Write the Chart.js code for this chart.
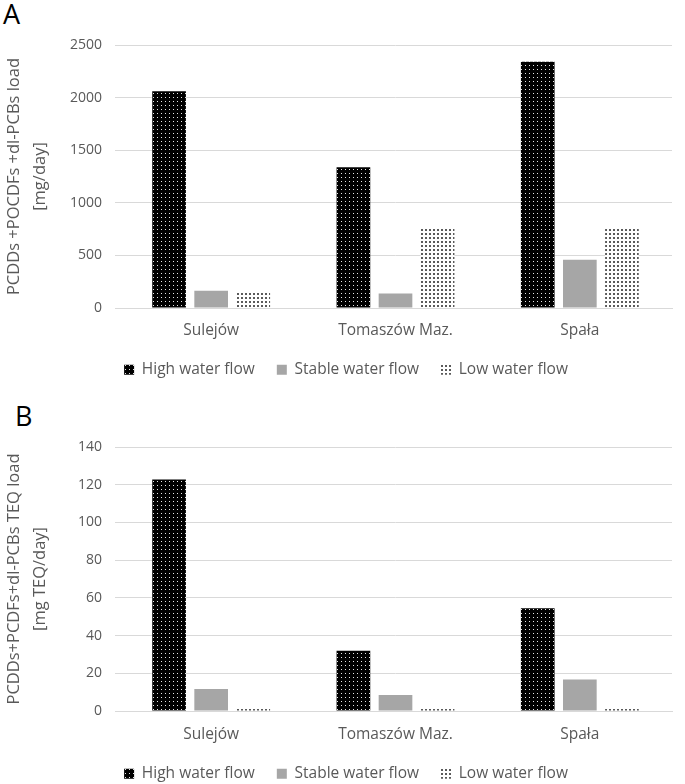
<!DOCTYPE html>
<html>
<head>
<meta charset="utf-8">
<script src="https://cdn.jsdelivr.net/npm/chart.js@4.4.1/dist/chart.umd.min.js"></script>
<style>
  html, body { margin: 0; padding: 0; background: #fff; overflow: hidden; }
  body { width: 685px; height: 784px; position: relative; }
  .box { position: absolute; left: 0; width: 685px; }
  .panel { position: absolute; font-family: "Open Sans", sans-serif; font-size: 27px; color: #000; }
</style>
</head>
<body>
<div class="panel" style="left:3px; top:-5px;">A</div>
<div class="panel" style="left:15px; top:397px;">B</div>
<div class="box" style="top:0; height:392px;"><canvas id="chartA"></canvas></div>
<div class="box" style="top:392px; height:400px;"><canvas id="chartB"></canvas></div>
<script>
// stations
const sites = ['Sulejów', 'Tomaszów Maz.', 'Spała']
const flowNames = ['High water flow', 'Stable water flow', 'Low water flow']

// A: PCDDs +PCDFs +dl-PCBs load [mg/day]
const loadHigh = [2060, 1338, 2340]
const loadStable = [163, 138, 458]
const loadLow = [143, 756, 752]
const loadTicks = [0, 500, 1000, 1500, 2000, 2500]

// B: TEQ load [mg TEQ/day]
const teqHigh = [122.7, 32, 54.5]
const teqStable = [11.7, 8.5, 16.7]
const teqLow = [2, 2, 2]
const teqTicks = [0, 20, 40, 60, 80, 100, 120, 140]

const textGrey = '#595959'
const gridGrey = '#d9d9d9'

// dotted fills like the excel pattern bars
function makePattern(bg, dot, size, dotSize){
	let c = document.createElement('canvas')
	c.width = size
	c.height = size
	let g = c.getContext('2d')
	g.fillStyle = bg
	g.fillRect(0, 0, size, size)
	g.fillStyle = dot
	g.fillRect(1, 1, dotSize, dotSize)
	return g.createPattern(c, 'repeat')
}

const highFill = makePattern('#000000', '#e6e6e6', 4, 1)
const stableFill = '#a6a6a6'
const lowFill = makePattern('#ffffff', '#5a5a5a', 4, 2)

const legendPad = 22
const legendFont = 15.5
const legendHeight = legendFont + legendPad + 10

function drawPanel(canvasId, boxHeight, high, stable, low, ticks, max, title, top, bottom, xHeight){
	let ctx = document.getElementById(canvasId)
	// whatever is left under the legend so the plot floor lands where it should
	let padBottom = boxHeight - bottom - xHeight - legendHeight
	new Chart(ctx, {
		type: 'bar',
		data: {
			labels: sites,
			datasets: [
				{ label: flowNames[0], data: high, backgroundColor: highFill, borderWidth: 0 },
				{ label: flowNames[1], data: stable, backgroundColor: stableFill, borderWidth: 0 },
				{ label: flowNames[2], data: low, backgroundColor: lowFill, borderWidth: 0 }
			]
		},
		options: {
			responsive: true,
			maintainAspectRatio: false,
			animation: false,
			categoryPercentage: 0.685,
			barPercentage: 0.8,
			layout: { padding: { top: top, right: 13, left: 20, bottom: padBottom } },
			plugins: {
				tooltip: { enabled: false },
				legend: {
					position: 'bottom',
					labels: {
						boxWidth: 10,
						boxHeight: 10,
						padding: legendPad,
						color: textGrey,
						font: { family: 'Open Sans', size: legendFont }
					}
				}
			},
			scales: {
				x: {
					grid: { display: false, drawTicks: false },
					border: { color: gridGrey },
					ticks: { color: textGrey, padding: xHeight - 19, font: { family: 'Open Sans', size: 15.5 } },
					afterFit: (scale) => { scale.height = xHeight }
				},
				y: {
					min: 0,
					max: max,
					afterBuildTicks: (scale) => { scale.ticks = ticks.map(v => ({ value: v })) },
					grid: { color: gridGrey, drawTicks: true, tickLength: 4, tickColor: gridGrey },
					border: { display: false },
					ticks: {
						color: textGrey,
						padding: 13,
						font: { family: 'Open Sans', size: 14 },
						callback: (v) => String(v)
					},
					title: {
						display: true,
						text: title,
						color: textGrey,
						padding: { top: -19 },
						font: { family: 'Open Sans', size: 16.5, lineHeight: 1.6 }
					},
					afterFit: (scale) => { scale.width = 99 }
				}
			}
		}
	})
}

drawPanel('chartA', 392, loadHigh, loadStable, loadLow, loadTicks, 2500,
	['PCDDs +POCDFs +dl-PCBs load', '[mg/day]'], 45, 308, 32)
drawPanel('chartB', 400, teqHigh, teqStable, teqLow, teqTicks, 140,
	['PCDDs+PCDFs+dl-PCBs TEQ load', '[mg TEQ/day]'], 55, 319, 33)
</script>
</body>
</html>
